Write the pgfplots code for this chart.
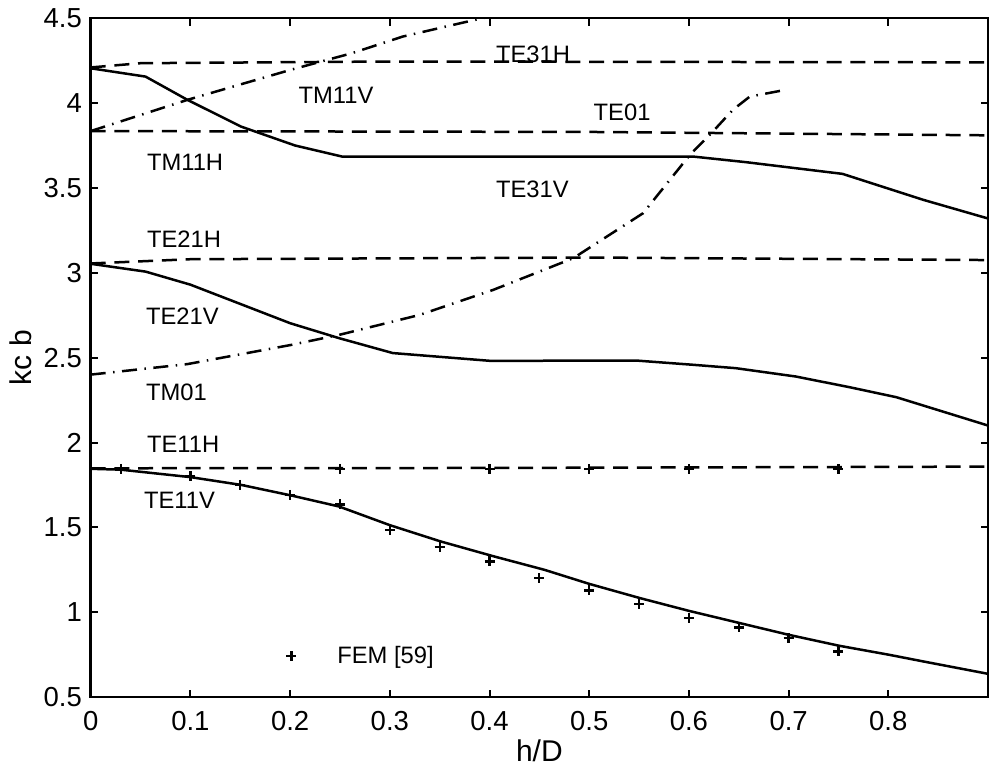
\documentclass[border=0pt]{standalone}
\usepackage{fontspec}
\setmainfont{Liberation Sans}
\usepackage{pgfplots}
\pgfplotsset{compat=1.18}
\begin{document}
\begin{tikzpicture}
\begin{axis}[
  scale only axis, width=359pt, height=271.6pt,
  xmin=0, xmax=0.9, ymin=0.5, ymax=4.5,
  xtick={0,0.1,0.2,0.3,0.4,0.5,0.6,0.7,0.8},
  ytick={0.5,1,1.5,2,2.5,3,3.5,4,4.5},
  tick pos=both, tick align=inside, major tick length=3pt,
  axis line style={line width=1pt},
  tick style={line width=0.8pt, black},
  /pgf/number format/assume math mode=true,
  /pgf/number format/fixed,
  every tick label/.append style={font=\fontsize{11}{11}\selectfont},
  xticklabel style={yshift=-2pt},
  xlabel={h/D}, ylabel={kc b},
  every axis label/.append style={font=\fontsize{12}{12}\selectfont},
  xlabel style={yshift=3pt},
  ylabel style={yshift=-2pt},
  legend style={at={(axis cs:0.2,0.74)}, anchor=west, xshift=-1.7pt, draw=none, fill=none, inner sep=0pt, column sep=14.4pt, font=\fontsize{9.5}{9.5}\selectfont},
  legend cell align=left,
  every axis plot/.append style={line width=1pt, black},
]
% horizontal-ish dashed modes
\addplot[forget plot, dash pattern=on 6pt off 3.5pt] coordinates {(0,4.21) (0.05,4.235) (0.3,4.245) (0.9,4.24)};
\addplot[forget plot, dash pattern=on 6pt off 3.5pt] coordinates {(0,3.835) (0.5,3.83) (0.9,3.81)};
\addplot[forget plot, dash pattern=on 6pt off 3.5pt] coordinates {(0,3.055) (0.1,3.08) (0.5,3.09) (0.9,3.075)};
\addplot[forget plot, dash pattern=on 6pt off 3.5pt] coordinates {(0,1.848) (0.4,1.85) (0.9,1.858)};
% solid modes
\addplot[forget plot] coordinates {(0,4.205) (0.055,4.156) (0.097,4.019) (0.151,3.861) (0.205,3.75) (0.252,3.685) (0.604,3.685) (0.657,3.652) (0.754,3.583) (0.835,3.43) (0.9,3.32)};
\addplot[forget plot] coordinates {(0,3.053) (0.055,3.007) (0.1,2.93) (0.2,2.703) (0.249,2.615) (0.303,2.527) (0.401,2.481) (0.547,2.483) (0.604,2.458) (0.647,2.438) (0.707,2.389) (0.761,2.326) (0.808,2.267) (0.9,2.1)};
\addplot[forget plot] coordinates {(0,1.845) (0.03,1.84) (0.1,1.796) (0.151,1.75) (0.201,1.688) (0.249,1.623) (0.3,1.513) (0.351,1.417) (0.405,1.328) (0.455,1.25) (0.5,1.167) (0.551,1.083) (0.6,1.008) (0.651,0.936) (0.7,0.867) (0.751,0.802) (0.801,0.749) (0.835,0.71) (0.9,0.637)};
% dash-dot modes
\addplot[forget plot, dash pattern=on 6pt off 3pt on 0.6pt off 3pt] coordinates {(0,2.40) (0.097,2.462) (0.201,2.575) (0.249,2.634) (0.33,2.752) (0.404,2.9) (0.484,3.086) (0.554,3.351) (0.601,3.695) (0.624,3.832) (0.644,3.96) (0.661,4.038) (0.697,4.078)};
\addplot[forget plot, dash pattern=on 6pt off 3pt on 0.6pt off 3pt] coordinates {(0,3.835) (0.097,4.019) (0.2,4.195) (0.262,4.294) (0.313,4.392) (0.388,4.494) (0.4,4.51)};
% FEM
\addplot[only marks, mark=+, mark size=2pt, line width=0.9pt] coordinates {
 (0.03,1.845) (0.1,1.80) (0.15,1.75) (0.2,1.692) (0.25,1.635) (0.3,1.486) (0.35,1.384) (0.4,1.299) (0.45,1.201) (0.5,1.128) (0.55,1.05) (0.6,0.965) (0.65,0.91) (0.7,0.848) (0.75,0.769)
 (0.25,1.845) (0.4,1.845) (0.5,1.843) (0.6,1.843) (0.75,1.842)};
\addlegendentry{FEM [59]}
% mode labels
\begin{scope}[every node/.style={anchor=west, inner sep=0pt, font=\fontsize{9.5}{9.5}\selectfont}]
\node at (axis cs:0.406,4.29) {TE31H};
\node at (axis cs:0.208,4.048) {TM11V};
\node at (axis cs:0.504,3.945) {TE01};
\node at (axis cs:0.056,3.65) {TM11H};
\node at (axis cs:0.406,3.494) {TE31V};
\node at (axis cs:0.056,3.20) {TE21H};
\node at (axis cs:0.055,2.746) {TE21V};
\node at (axis cs:0.055,2.296) {TM01};
\node at (axis cs:0.056,1.992) {TE11H};
\node at (axis cs:0.053,1.657) {TE11V};
\end{scope}
\end{axis}
\pgfresetboundingbox
\useasboundingbox ([xshift=-36.3pt,yshift=-29.1pt]current axis.south west) rectangle ([xshift=0.4pt,yshift=7.3pt]current axis.north east);
\end{tikzpicture}
\end{document}
